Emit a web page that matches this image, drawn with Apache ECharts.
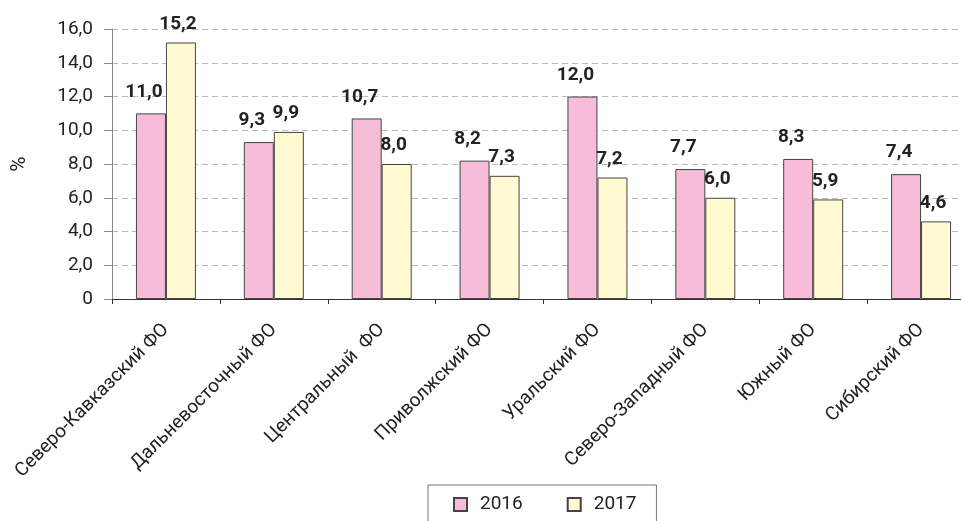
<!DOCTYPE html>
<html><head><meta charset="utf-8">
<script src="https://cdn.jsdelivr.net/npm/echarts@6/dist/echarts.min.js"></script>
<style>html,body{margin:0;padding:0;background:#fff}#c{width:961px;height:521px}</style>
</head><body><div id="c"></div>
<script>
const categories = ["Северо-Кавказский ФО","Дальневосточный ФО","Центральный  ФО","Приволжский ФО","Уральский ФО","Северо-Западный ФО","Южный ФО","Сибирский ФО"];
const values2016 = [11.0, 9.3, 10.7, 8.2, 12.0, 7.7, 8.3, 7.4];
const values2017 = [15.2, 9.9, 8.0, 7.3, 7.2, 6.0, 5.9, 4.6];
const seriesNames = ["2016","2017"];
const FONT = 'Roboto,"Liberation Sans",Arial,sans-serif';
const fmt = v => v === 0 ? '0' : v.toFixed(1).replace('.', ',');
const chart = echarts.init(document.getElementById('c'));
const lbl = {show:true, position:'top', distance:10, fontFamily:FONT, fontWeight:'bold', fontSize:19, color:'#222', formatter:p=>fmt(p.value)};
chart.setOption({
  animation:false,
  grid:{left:112, top:29, bottom:222, right:-14, containLabel:false, outerBoundsMode:'none'},
  legend:{left:428, top:485, width:229, height:36, padding:[10,20,10,25], itemGap:44, itemWidth:13, itemHeight:13,
    borderColor:'#777', borderWidth:1, borderRadius:0,
    textStyle:{fontFamily:FONT, fontSize:19, color:'#222', padding:[0,0,0,8]},
    data:seriesNames.map(n=>({name:n, icon:'rect'}))},
  xAxis:{type:'category', data:categories,
    axisLine:{lineStyle:{color:'#333', width:1}},
    axisTick:{show:true, length:5, lineStyle:{color:'#333'}},
    axisLabel:{rotate:45, interval:0, margin:28, fontFamily:FONT, fontSize:19, color:'#222'}},
  yAxis:{type:'value', min:0, max:16, interval:2, name:'%', nameLocation:'middle', nameGap:82, nameRotate:90,
    nameTextStyle:{fontFamily:FONT, fontSize:21, color:'#222'},
    axisLine:{show:true, lineStyle:{color:'#888'}},
    axisTick:{show:true, length:8, lineStyle:{color:'#888'}},
    axisLabel:{formatter:fmt, fontFamily:FONT, fontSize:19, color:'#222', margin:19},
    splitLine:{lineStyle:{color:'#bbb', type:[6,4]}}},
  series:[
    {name:seriesNames[0], type:'bar', data:values2016, barWidth:30, barGap:'0%',
      itemStyle:{color:'#f6bcd8', borderColor:'#444', borderWidth:1}, label:Object.assign({},lbl,{distance:12, offset:[-7,0]})},
    {name:seriesNames[1], type:'bar', data:values2017, barWidth:30, barGap:'0%',
      itemStyle:{color:'#fffad2', borderColor:'#444', borderWidth:1}, label:Object.assign({},lbl,{distance:9, offset:[-3,0]})}
  ]
});
</script></body></html>
